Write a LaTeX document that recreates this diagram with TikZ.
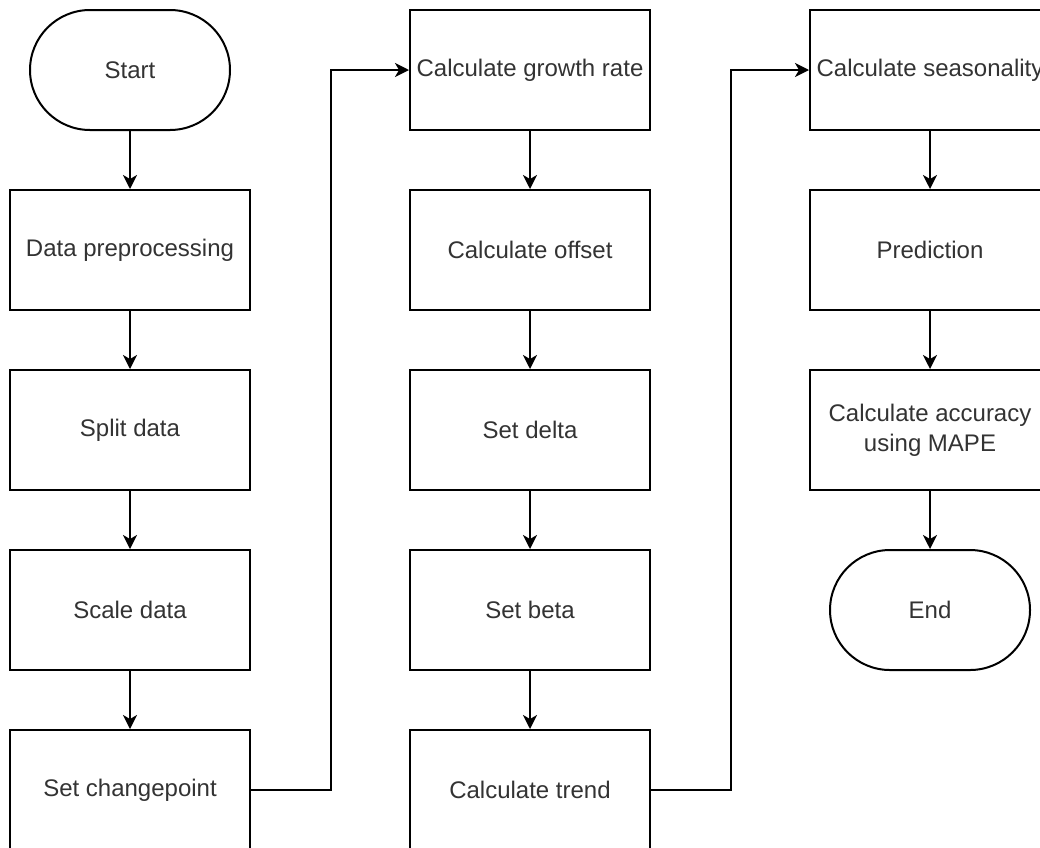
\documentclass[tikz,border=0pt]{standalone}
\usepackage{fontspec}
\setmainfont{Liberation Sans}
\usetikzlibrary{arrows.meta}
\definecolor{txt}{HTML}{333333}
\tikzset{
  procbox/.style={draw=black, line width=2pt, fill=white, minimum width=240pt, minimum height=120pt, inner sep=0pt, align=center, text=txt, font=\fontsize{24}{30}\selectfont},
  termbox/.style={draw=black, line width=2pt, fill=white, rounded corners=60pt, minimum width=200pt, minimum height=120pt, inner sep=0pt, align=center, text=txt, font=\fontsize{24}{30}\selectfont},
  conn/.style={draw=black, line width=2pt, -{Stealth[length=14pt,width=14pt,inset=4pt]}}
}
\begin{document}
\begin{tikzpicture}[x=1pt,y=-1pt]
\clip (0,0) rectangle (1040,847);
\fill[white] (0,0) rectangle (1040,847);
% column 1
\node[termbox] (start) at (130,70) {Start};
\node[procbox] (prep) at (130,250) {Data preprocessing};
\node[procbox] (split) at (130,430) {Split data};
\node[procbox] (scale) at (130,610) {Scale data};
\node[procbox] (cp) at (130,790) {Set changepoint};
% column 2
\node[procbox] (growth) at (530,70) {Calculate growth rate};
\node[procbox] (offset) at (530,250) {Calculate offset};
\node[procbox] (delta) at (530,430) {Set delta};
\node[procbox] (beta) at (530,610) {Set beta};
\node[procbox] (trend) at (530,790) {Calculate trend};
% column 3
\node[procbox] (season) at (930,70) {Calculate seasonality};
\node[procbox] (pred) at (930,250) {Prediction};
\node[procbox] (acc) at (930,430) {Calculate accuracy\\using MAPE};
\node[termbox] (end) at (930,610) {End};
% connectors
\draw[conn] (start) -- (prep);
\draw[conn] (prep) -- (split);
\draw[conn] (split) -- (scale);
\draw[conn] (scale) -- (cp);
\draw[conn] (cp.east) -- ++(80,0) |- (growth.west);
\draw[conn] (growth) -- (offset);
\draw[conn] (offset) -- (delta);
\draw[conn] (delta) -- (beta);
\draw[conn] (beta) -- (trend);
\draw[conn] (trend.east) -- ++(80,0) |- (season.west);
\draw[conn] (season) -- (pred);
\draw[conn] (pred) -- (acc);
\draw[conn] (acc) -- (end);
\end{tikzpicture}
\end{document}
